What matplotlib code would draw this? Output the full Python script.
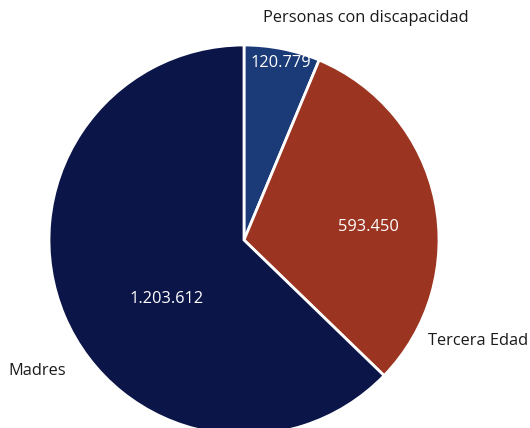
import matplotlib.pyplot as plt

categories = ["Personas con discapacidad", "Tercera Edad", "Madres"]
values = [120779, 593450, 1203612]
value_labels = ["120.779", "593.450", "1.203.612"]
colors = ["#1b3a78", "#9b3522", "#0b1548"]

plt.rcParams['font.family'] = ['Open Sans', 'DejaVu Sans']

fig = plt.figure(figsize=(5.3, 4.28), dpi=100)
ax = fig.add_axes([0, 0, 1, 1])

cx, cy, r = 244, 428 - 240, 195
ax.pie(values, colors=colors, startangle=90, counterclock=False,
       center=(cx, cy), radius=r,
       wedgeprops=dict(edgecolor='white', linewidth=2))

# pie resets the limits, so set the pixel frame afterwards
ax.set_xlim(0, 530)
ax.set_ylim(0, 428)
ax.set_aspect('equal')
ax.axis('off')

fs = 11.8
# category labels outside the pie
ax.text(366, 428 - 18, categories[0], ha='center', va='center', fontsize=fs, color='#1a1a1a')
ax.text(478, 428 - 341, categories[1], ha='center', va='center', fontsize=fs, color='#1a1a1a')
ax.text(37, 428 - 371, categories[2], ha='center', va='center', fontsize=fs, color='#1a1a1a')

# value labels inside the slices
ax.text(281, 428 - 63, value_labels[0], ha='center', va='center', fontsize=fs, color='white')
ax.text(368, 428 - 227, value_labels[1], ha='center', va='center', fontsize=fs, color='white')
ax.text(167, 428 - 299, value_labels[2], ha='center', va='center', fontsize=fs, color='white')

plt.savefig("out.png", dpi=100)
